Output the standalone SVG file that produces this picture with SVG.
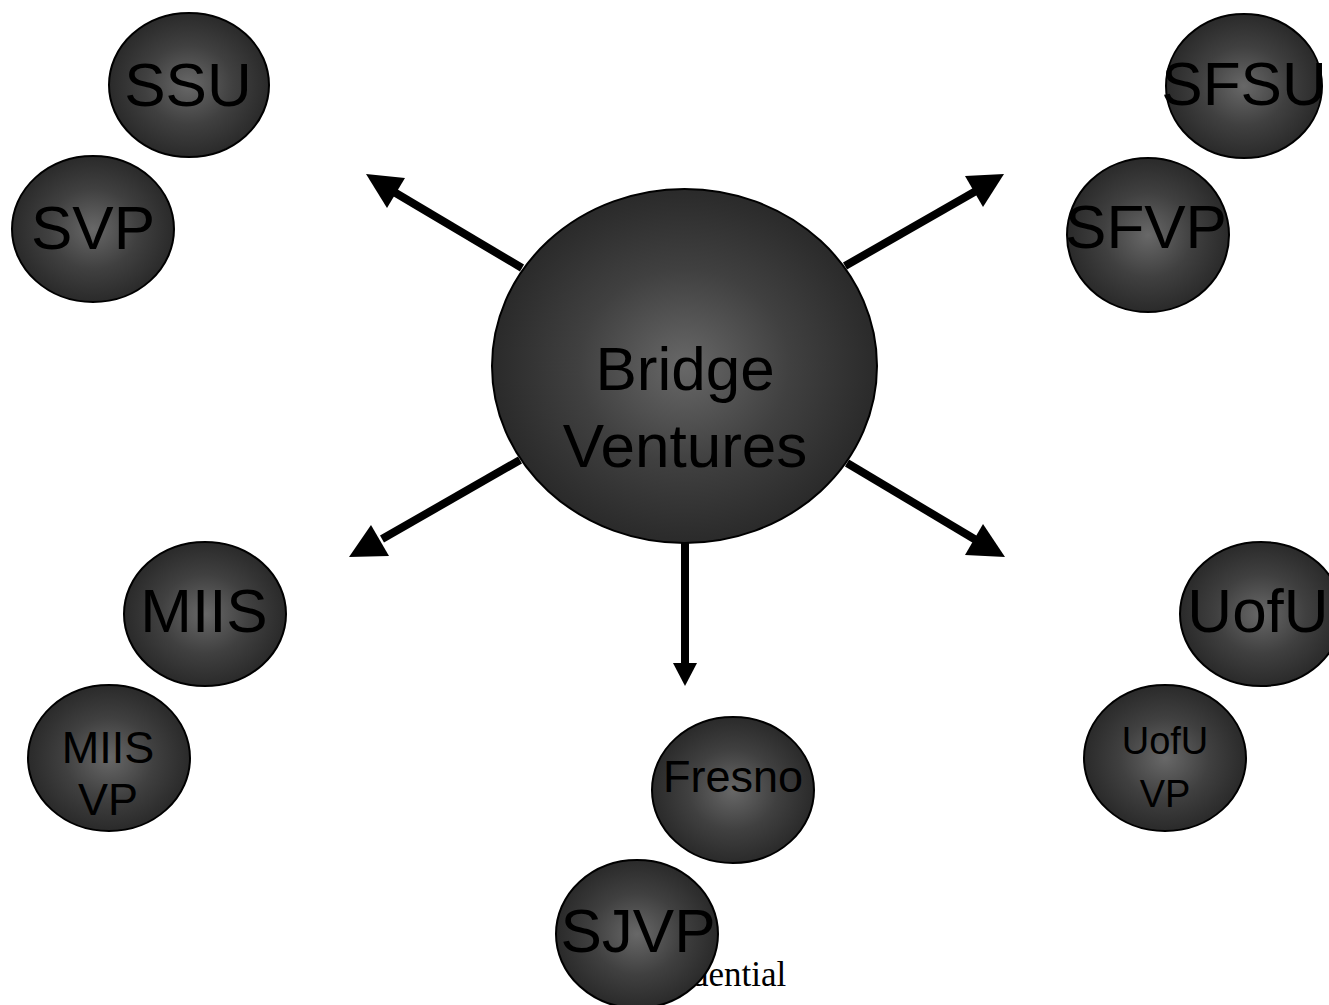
<svg xmlns="http://www.w3.org/2000/svg" width="1329" height="1005" viewBox="0 0 1329 1005">
<defs>
<radialGradient id="g" cx="50%" cy="50%" r="50%">
<stop offset="0" stop-color="#686868"/>
<stop offset="0.55" stop-color="#404040"/>
<stop offset="1" stop-color="#2a2a2a"/>
</radialGradient>
<style>
.n{fill:url(#g);stroke:#000;stroke-width:2}
.t{font-family:"Liberation Sans",Arial,sans-serif;fill:#000;text-anchor:middle}
.big{font-size:62px}
.sm{font-size:45px}
.xs{font-size:38px}
.c{stroke:#000;stroke-width:8;fill:none}
.h{fill:#000}
</style>
</defs>
<rect width="1329" height="1005" fill="#fff"/>
<text x="691" y="986" font-family="'Liberation Serif','Times New Roman',serif" font-size="35" fill="#000">dential</text>
<g id="connectors">
<line class="c" x1="522" y1="268" x2="394" y2="192"/>
<polygon class="h" points="366,174 405,178 387,208"/>
<line class="c" x1="845" y1="266" x2="976" y2="191"/>
<polygon class="h" points="1004,174 965,176 983,207"/>
<line class="c" x1="520" y1="460" x2="382" y2="539"/>
<polygon class="h" points="349,557 371,525 389,556"/>
<line class="c" x1="847" y1="463" x2="976" y2="540"/>
<polygon class="h" points="1005,557 983,524 965,555"/>
<line class="c" x1="685" y1="543" x2="685" y2="665"/>
<polygon class="h" points="685,686 673,663 697,663"/>
</g>
<g id="bridge">
<ellipse class="n" cx="684.5" cy="366" rx="192.5" ry="177"/>
<text class="t" x="685" y="390" font-size="62">Bridge</text>
<text class="t" x="685" y="467" font-size="62">Ventures</text>
</g>
<g id="ssu">
<ellipse class="n" cx="189" cy="85" rx="80" ry="72"/>
<text class="t big" x="188" y="106">SSU</text>
</g>
<g id="svp">
<ellipse class="n" cx="93" cy="229" rx="81" ry="73"/>
<text class="t big" x="93" y="249">SVP</text>
</g>
<g id="sfsu">
<ellipse class="n" cx="1244" cy="86" rx="78" ry="72"/>
<text class="t big" x="1244" y="105">SFSU</text>
</g>
<g id="sfvp">
<ellipse class="n" cx="1148" cy="235" rx="81" ry="77"/>
<text class="t big" x="1146" y="248">SFVP</text>
</g>
<g id="miis">
<ellipse class="n" cx="205" cy="614" rx="81" ry="72"/>
<text class="t big" x="204" y="632">MIIS</text>
</g>
<g id="miisvp">
<ellipse class="n" cx="109" cy="758" rx="81" ry="73"/>
<text class="t sm" x="108" y="763">MIIS</text>
<text class="t sm" x="108" y="815">VP</text>
</g>
<g id="fresno">
<ellipse class="n" cx="733" cy="790" rx="81" ry="73"/>
<text class="t sm" x="733" y="792">Fresno</text>
</g>
<g id="sjvp">
<ellipse class="n" cx="637" cy="934" rx="81" ry="74"/>
<text class="t big" x="638" y="952">SJVP</text>
</g>
<g id="uofu">
<ellipse class="n" cx="1261" cy="614" rx="81" ry="72"/>
<text class="t big" x="1258" y="632">UofU</text>
</g>
<g id="uofuvp">
<ellipse class="n" cx="1165" cy="758" rx="81" ry="73"/>
<text class="t xs" x="1165" y="754">UofU</text>
<text class="t xs" x="1165" y="807">VP</text>
</g>
</svg>
